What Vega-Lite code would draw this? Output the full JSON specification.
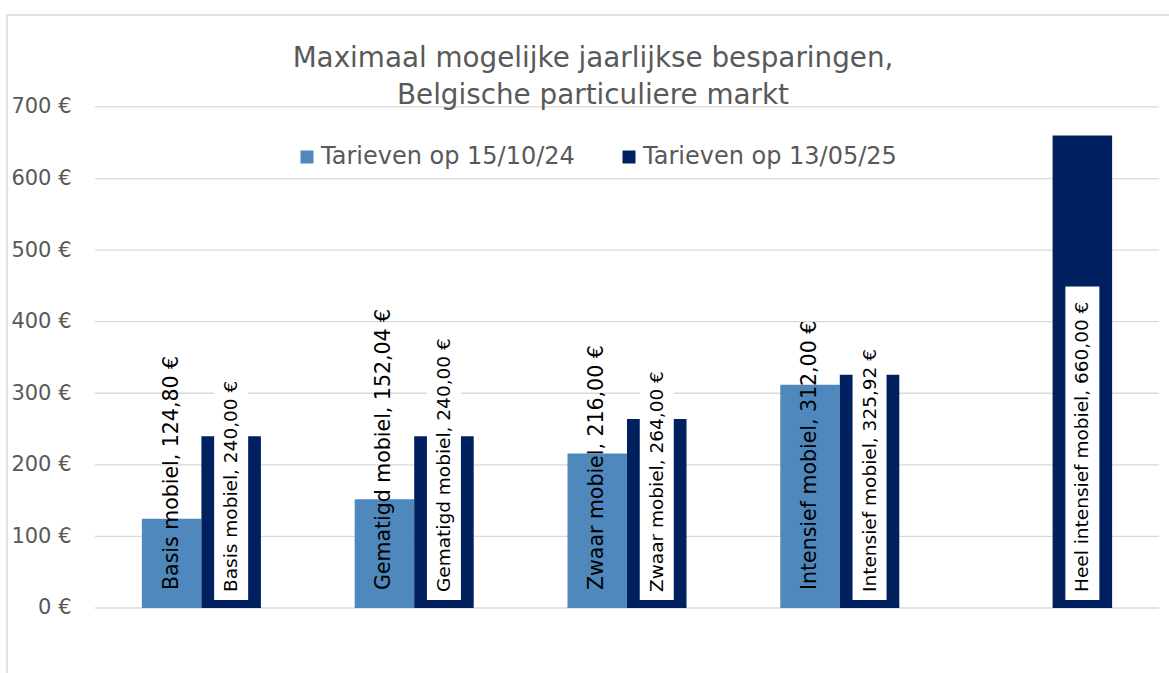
{
  "$schema": "https://vega.github.io/schema/vega-lite/v6.json",
  "autosize": "none",
  "width": 1240,
  "height": 700,
  "padding": {"left": 7, "top": 15, "right": -78, "bottom": -42},
  "background": "white",
  "config": {"font": "DejaVu Sans", "view": {"stroke": "#D9D9D9", "strokeWidth": 1.5}},
  "title": {
    "text": ["Maximaal mogelijke jaarlijkse besparingen,", "Belgische particuliere markt"],
    "fontSize": 27.8,
    "fontWeight": "normal",
    "color": "#595959",
    "anchor": "middle",
    "dx": -34,
    "offset": -95,
    "lineHeight": 37
  },
  "layer": [
    {
      "data": {"values": [{"t": 0}, {"t": 100}, {"t": 200}, {"t": 300}, {"t": 400}, {"t": 500}, {"t": 600}, {"t": 700}]},
      "mark": {"type": "tick", "color": "#D9D9D9", "thickness": 1.3, "size": 1064, "opacity": 1},
      "encoding": {
        "y": {
          "field": "t", "type": "quantitative",
          "scale": {"domain": [-149.5, 828.5], "nice": false, "zero": false},
          "axis": {
            "title": null, "values": [0, 100, 200, 300, 400, 500, 600, 700],
            "labelExpr": "datum.value + ' €'", "grid": false, "offset": -88,
            "domain": false, "ticks": false, "labelFontSize": 21, "labelColor": "#595959", "labelPadding": 24
          }
        }
      }
    },
    {
      "data": {
        "values": [
          {"cat": "Basis mobiel", "series": "Tarieven op 15/10/24", "value": 124.80},
          {"cat": "Basis mobiel", "series": "Tarieven op 13/05/25", "value": 240.00},
          {"cat": "Gematigd mobiel", "series": "Tarieven op 15/10/24", "value": 152.04},
          {"cat": "Gematigd mobiel", "series": "Tarieven op 13/05/25", "value": 240.00},
          {"cat": "Zwaar mobiel", "series": "Tarieven op 15/10/24", "value": 216.00},
          {"cat": "Zwaar mobiel", "series": "Tarieven op 13/05/25", "value": 264.00},
          {"cat": "Intensief mobiel", "series": "Tarieven op 15/10/24", "value": 312.00},
          {"cat": "Intensief mobiel", "series": "Tarieven op 13/05/25", "value": 325.92},
          {"cat": "Heel intensief mobiel", "series": "Tarieven op 13/05/25", "value": 660.00}
        ]
      },
      "transform": [
        {"calculate": "datum.cat + ', ' + replace(format(datum.value, '.2f'), '.', ',') + ' €'", "as": "label"}
      ],
      "encoding": {
        "x": {"field": "cat", "type": "nominal", "sort": null, "axis": null, "scale": {"paddingInner": 0, "paddingOuter": 0.41353}},
        "xOffset": {"field": "series", "type": "nominal", "sort": ["Tarieven op 15/10/24", "Tarieven op 13/05/25"], "scale": {"paddingInner": 0, "paddingOuter": 0.788}}
      },
      "layer": [
        {
          "mark": {"type": "bar"},
          "encoding": {
            "y": {"field": "value", "type": "quantitative"},
            "y2": {"datum": 0},
            "color": {
              "field": "series", "type": "nominal",
              "scale": {"domain": ["Tarieven op 15/10/24", "Tarieven op 13/05/25"], "range": ["#4E88BC", "#002060"]},
              "legend": {
                "orient": "none", "legendX": 288, "legendY": 130, "direction": "horizontal", "title": null,
                "labelFontSize": 24, "labelColor": "#595959", "symbolType": "square", "symbolSize": 169,
                "symbolStrokeWidth": 0, "columnPadding": 42, "labelOffset": 2, "padding": 0, "labelLimit": 400
              }
            }
          }
        },
        {
          "transform": [
            {"filter": "datum.series == 'Tarieven op 13/05/25'"},
            {"calculate": "(24 + length(datum.label) * 9.6) * 978 / 700", "as": "boxTop"}
          ],
          "mark": {"type": "bar", "color": "white", "width": 34, "y2Offset": -8},
          "encoding": {"y": {"field": "boxTop", "type": "quantitative"}, "y2": {"datum": 0}}
        },
        {
          "transform": [{"filter": "datum.series == 'Tarieven op 15/10/24'"}],
          "mark": {"type": "text", "angle": 270, "align": "left", "baseline": "middle", "dx": 18, "fontSize": 20.5, "color": "black"},
          "encoding": {"y": {"datum": 0}, "text": {"field": "label"}}
        },
        {
          "transform": [{"filter": "datum.series == 'Tarieven op 13/05/25'"}],
          "mark": {"type": "text", "angle": 270, "align": "left", "baseline": "middle", "dx": 16, "fontSize": 18.5, "color": "black"},
          "encoding": {"y": {"datum": 0}, "text": {"field": "label"}}
        }
      ]
    }
  ]
}
